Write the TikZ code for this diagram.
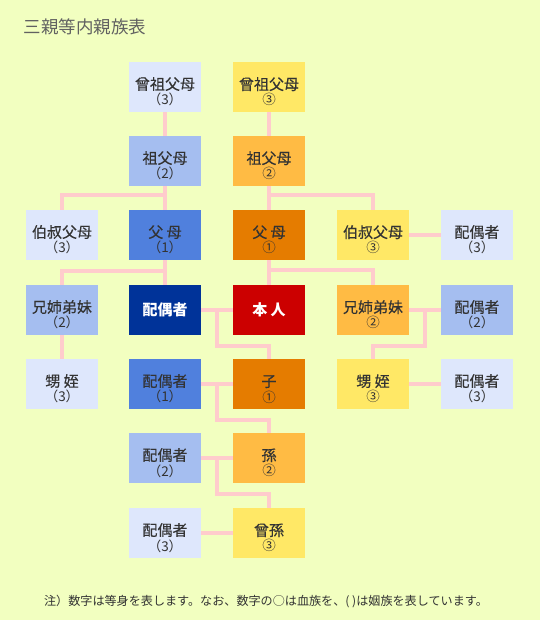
\documentclass[tikz,border=0pt]{standalone}
\usepackage{fontspec}
\setmainfont{Noto Sans CJK JP}
\newfontfamily\medfont[FakeBold=0.4]{Noto Sans CJK JP}
\usetikzlibrary{calc}
\definecolor{bg}{HTML}{F2FFC0}
\definecolor{lblue}{HTML}{DEE7FC}
\definecolor{mblue}{HTML}{A5BEF0}
\definecolor{blue1}{HTML}{5080DD}
\definecolor{dblue}{HTML}{003399}
\definecolor{hred}{HTML}{CC0000}
\definecolor{org1}{HTML}{E57C00}
\definecolor{org2}{HTML}{FFBB44}
\definecolor{yel3}{HTML}{FFE866}
\definecolor{pinkline}{HTML}{FFCCCC}
\definecolor{txt}{HTML}{333333}
\newcommand{\twol}[2]{\raisebox{0pt}[22pt][0pt]{}{\medfont\fontsize{15}{17}\selectfont #1}\\[1.5pt]{\fontsize{13.5}{15}\selectfont #2}}
\tikzset{
  box/.style={minimum width=72pt, minimum height=50pt, inner sep=0pt, align=center, text=txt},
  link/.style={draw=pinkline, line width=4pt},
}
\begin{document}
\begin{tikzpicture}[x=1pt,y=-1pt]
\useasboundingbox[fill=bg] (0,0) rectangle (540,620);
\node[anchor=west, text=black!62, font=\fontsize{17.5}{20}\selectfont] (title) at (20,27) {三親等内親族表};
% nodes
\node[box, fill=lblue] (b1) at (165,87) {\twol{曾祖父母}{（3）}};
\node[box, fill=yel3] (c1) at (269,87) {\twol{曾祖父母}{③}};
\node[box, fill=mblue] (b2) at (165,161) {\twol{祖父母}{（2）}};
\node[box, fill=org2] (c2) at (269,161) {\twol{祖父母}{②}};
\node[box, fill=lblue] (a3) at (62,235) {\twol{伯叔父母}{（3）}};
\node[box, fill=blue1] (b3) at (165,235) {\twol{父 母}{（1）}};
\node[box, fill=org1] (c3) at (269,235) {\twol{父 母}{①}};
\node[box, fill=yel3] (d3) at (373,235) {\twol{伯叔父母}{③}};
\node[box, fill=lblue] (e3) at (477,235) {\twol{配偶者}{（3）}};
\node[box, fill=mblue] (a4) at (62,310) {\twol{兄姉弟妹}{（2）}};
\node[box, fill=dblue, text=white, font=\bfseries\fontsize{15}{17}\selectfont] (b4) at (165,310) {配偶者};
\node[box, fill=hred, text=white, font=\bfseries\fontsize{15}{17}\selectfont] (c4) at (269,310) {本 人};
\node[box, fill=org2] (d4) at (373,310) {\twol{兄姉弟妹}{②}};
\node[box, fill=mblue] (e4) at (477,310) {\twol{配偶者}{（2）}};
\node[box, fill=lblue] (a5) at (62,384) {\twol{甥 姪}{（3）}};
\node[box, fill=blue1] (b5) at (165,384) {\twol{配偶者}{（1）}};
\node[box, fill=org1] (c5) at (269,384) {\twol{子}{①}};
\node[box, fill=yel3] (d5) at (373,384) {\twol{甥 姪}{③}};
\node[box, fill=lblue] (e5) at (477,384) {\twol{配偶者}{（3）}};
\node[box, fill=mblue] (b6) at (165,458) {\twol{配偶者}{（2）}};
\node[box, fill=org2] (c6) at (269,458) {\twol{孫}{②}};
\node[box, fill=lblue] (b7) at (165,533) {\twol{配偶者}{（3）}};
\node[box, fill=yel3] (c7) at (269,533) {\twol{曾孫}{③}};
\node[text=txt, font=\fontsize{12.1}{14}\selectfont] (note) at (266,601) {注）数字は等身を表します。なお、数字の○は血族を、( )は姻族を表しています。};
% connectors
\draw[link] (b1) -- (b2);
\draw[link] (c1) -- (c2);
\draw[link] (b2) -- (b3);
\draw[link] (b2.south) -- ++(0,9) -| (a3.north);
\draw[link] (c2) -- (c3);
\draw[link] (c2.south) -- ++(0,9) -| (d3.north);
\draw[link] (d3) -- (e3);
\draw[link] (b3) -- (b4);
\draw[link] (b3.south) -- ++(0,11) -| (a4.north);
\draw[link] (c3) -- (c4);
\draw[link] (c3.south) -- ++(0,10) -| (d4.north);
\draw[link] (a4) -- (a5);
\draw[link] (b4) -- (c4);
\coordinate (m4) at ($(b4.east)!0.5!(c4.west)$);
\draw[link] (m4) -- ++(0,36) -| (c5.north);
\draw[link] (d4) -- (e4);
\coordinate (n4) at ($(d4.east)!0.5!(e4.west)$);
\draw[link] (n4) -- ++(0,36) -| (d5.north);
\draw[link] (d5) -- (e5);
\draw[link] (b5) -- (c5);
\coordinate (m5) at ($(b5.east)!0.5!(c5.west)$);
\draw[link] (m5) -- ++(0,36) -| (c6.north);
\draw[link] (b6) -- (c6);
\coordinate (m6) at ($(b6.east)!0.5!(c6.west)$);
\draw[link] (m6) -- ++(0,36) -| (c7.north);
\draw[link] (b7) -- (c7);
\end{tikzpicture}
\end{document}
